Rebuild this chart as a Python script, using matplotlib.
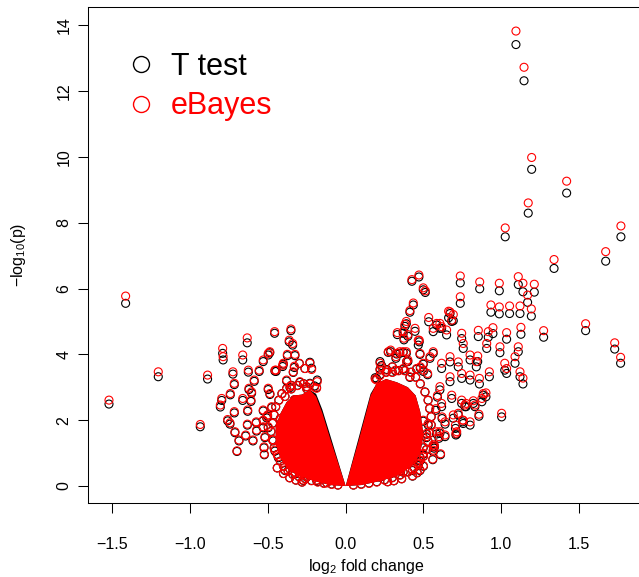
import matplotlib
matplotlib.use('Agg')
import matplotlib.pyplot as plt
from matplotlib.lines import Line2D

plt.rcParams['font.family'] = ['Liberation Sans', 'DejaVu Sans']
plt.rcParams['mathtext.fontset'] = 'custom'
plt.rcParams['mathtext.rm'] = 'Liberation Sans'
plt.rcParams['mathtext.it'] = 'Liberation Sans'
plt.rcParams['mathtext.default'] = 'regular'

# ---- individual genes: log2 fold change, -log10 p (T test), -log10 p (eBayes)
fold = [
    1.095, 1.147, 1.196, 1.421, 1.174, 1.026, 1.770, 1.672, 1.340, 1.543, 1.730, 1.768, 1.273,
    0.737, 0.737, 0.862, 0.988, 1.110, 1.140, 1.213, 1.170, 0.934, 0.988, 1.054, 1.121, 1.194,
    1.127, 1.035, 0.947, 0.853, 0.917, 0.662, 0.692, 0.534, 0.471, 0.426, 0.499, 0.512, 0.435,
    0.413, 1.110, 1.089, 1.121, 1.140, 1.003, 1.023, 0.924, 0.849, 0.860, 0.902, 0.876, 0.857,
    0.800, 0.756, 0.714, 0.774, 0.821, 0.563, 0.606, 0.649, 0.746, 0.756, 0.800, 0.840, 0.907,
    0.992, 1.035, 0.671, 0.617, 0.724, 0.746, 0.800, 0.671, 0.606, 0.682, 0.617, 0.746, 0.692,
    0.639, 0.706, 0.585, 0.563, 0.467, 0.446, 0.390, 0.400, 0.381, 0.332, 0.370, 0.375, 0.473,
    0.289, 0.323, 0.348, 0.390, 0.400, 0.542, 0.563, 0.221, 0.231, 0.221, 0.300, 0.320, 0.370,
    0.480, 0.500, 0.527, 0.709, 0.752, 0.767, 0.831, 0.885, 0.724, 0.606, 0.639, 0.563, 0.568,
    0.531, 0.478, 0.424, 0.585, 0.617, 0.671, 0.682,
    0.274, 0.328, 0.370, 0.392, 0.478, 0.499, 0.456, 0.413, 0.264, 0.199,
    0.499, 0.521, 0.499, 0.478, 0.221, 0.285, 0.370, 0.478, 0.413, 0.499, 0.520, 0.430, 0.467,
    0.354,
    -1.415, -1.205, -1.522, -0.888, -0.935, -0.791, -0.788, -0.633, -0.457, -0.662, -0.725,
    -0.716, -0.626, -0.556, -0.530, -0.498, -0.488, -0.448, -0.588, -0.622, -0.605, -0.742,
    -0.797, -0.806, -0.662, -0.609, -0.716, -0.630, -0.759, -0.744, -0.712, -0.686, -0.699,
    -0.632, -0.643, -0.596, -0.575, -0.573, -0.525, -0.523, -0.530, -0.519, -0.498, -0.502,
    -0.390, -0.352, -0.363, -0.341, -0.375, -0.326, -0.405, -0.330, -0.298, -0.262, -0.230,
    -0.219, -0.183, -0.347, -0.326, -0.294, -0.251, -0.187, -0.122,
    -0.487, -0.476, -0.508, -0.498, -0.466, -0.455, -0.433, -0.273, -0.401, -0.337, -0.294,
    -0.455, -0.380, -0.358, -0.251, -0.187, -0.530, -0.530,
]
p_ttest = [
    13.41, 12.31, 9.62, 8.90, 8.29, 7.57, 7.57, 6.83, 6.61, 4.72, 4.16, 3.73, 4.52,
    6.17, 5.55, 5.99, 5.93, 6.12, 5.90, 5.89, 5.58, 5.28, 5.23, 5.24, 5.24, 5.16,
    4.61, 4.46, 4.63, 4.54, 4.52, 5.11, 5.02, 4.99, 6.35, 6.22, 5.96, 5.88, 5.50,
    5.28, 4.08, 3.73, 3.32, 3.10, 2.10, 3.52, 3.32, 3.78, 3.10, 2.71, 2.56, 2.12,
    1.85, 1.90, 1.58, 2.41, 2.51, 4.69, 4.79, 4.59, 4.48, 4.18, 3.83, 3.62, 4.18,
    4.05, 3.42, 3.77, 3.57, 3.62, 3.27, 3.22, 3.17, 2.92, 2.66, 2.41, 2.51, 2.06,
    1.88, 1.75, 1.58, 1.20, 4.28, 4.70, 4.93, 4.55, 4.85, 4.60, 4.64, 4.44, 4.38,
    4.08, 3.88, 4.03, 4.03, 3.78, 3.88, 4.03, 3.78, 3.66, 3.55, 3.62, 3.50, 3.55,
    3.58, 3.48, 3.38, 1.55, 1.95, 2.41, 2.41, 2.76, 2.16, 1.60, 1.50, 1.05, 1.15,
    1.85, 0.86, 0.76, 4.89, 4.79, 5.24, 5.00,
    4.06, 4.01, 4.06, 3.78, 4.00, 3.70, 3.55, 3.30, 3.54, 3.26,
    1.97, 1.57, 1.16, 0.76, 0.27, 0.37, 0.42, 0.47, 0.76, 0.97, 1.47, 0.47, 0.62,
    0.47,
    5.55, 3.32, 2.49, 3.25, 1.80, 4.03, 3.83, 4.35, 4.64, 3.83, 3.40,
    3.08, 3.46, 3.48, 3.78, 3.98, 4.05, 3.48, 3.18, 2.93, 2.82, 2.77,
    2.60, 2.40, 2.60, 2.57, 2.22, 2.27, 1.98, 1.88, 1.62, 1.37, 1.05,
    1.85, 1.52, 1.37, 1.92, 1.67, 1.16, 0.95, 1.77, 1.47, 2.93, 2.12,
    0.47, 4.72, 4.38, 4.28, 3.96, 3.96, 3.63, 3.60, 3.72, 3.57, 3.76,
    3.58, 3.22, 0.62, 0.37, 0.37, 0.27, 0.17, 0.10,
    2.78, 2.38, 2.07, 1.77, 1.37, 1.06, 0.86, 0.17, 3.70, 3.45, 3.15,
    3.49, 3.19, 2.99, 3.01, 2.99, 2.28, 1.98,
]
p_ebayes = [
    13.82, 12.72, 9.98, 9.26, 8.60, 7.84, 7.90, 7.12, 6.88, 4.93, 4.35, 3.91, 4.72,
    6.38, 5.75, 6.20, 6.16, 6.36, 6.16, 6.13, 5.80, 5.50, 5.44, 5.47, 5.47, 5.38,
    4.82, 4.66, 4.81, 4.73, 4.69, 5.31, 5.21, 5.12, 6.41, 6.27, 6.02, 5.93, 5.56,
    5.33, 4.23, 3.93, 3.47, 3.28, 2.21, 3.73, 3.47, 3.95, 3.27, 2.83, 2.66, 2.18,
    1.95, 2.00, 1.65, 2.51, 2.59, 4.79, 4.94, 4.74, 4.64, 4.33, 3.98, 3.78, 4.33,
    4.23, 3.57, 3.93, 3.73, 3.77, 3.42, 3.37, 3.32, 3.02, 2.76, 2.51, 2.61, 2.16,
    1.95, 1.85, 1.65, 1.25, 4.43, 4.79, 5.00, 4.60, 4.91, 4.66, 4.69, 4.49, 4.43,
    4.13, 3.93, 4.08, 4.08, 3.83, 3.93, 4.08, 3.73, 3.62, 3.52, 3.62, 3.52, 3.57,
    3.62, 3.52, 3.42, 1.60, 2.00, 2.46, 2.46, 2.81, 2.21, 1.65, 1.55, 1.09, 1.19,
    1.90, 0.89, 0.79, 4.94, 4.84, 5.29, 5.04,
    4.08, 4.03, 4.08, 3.78, 4.03, 3.73, 3.57, 3.32, 3.52, 3.22,
    2.00, 1.60, 1.19, 0.79, 0.28, 0.39, 0.43, 0.49, 0.79, 0.99, 1.50, 0.49, 0.65,
    0.49,
    5.77, 3.47, 2.61, 3.37, 1.87, 4.18, 3.93, 4.50, 4.69, 3.98, 3.47,
    3.12, 3.52, 3.52, 3.83, 4.03, 4.08, 3.52, 3.22, 2.97, 2.86, 2.81,
    2.66, 2.46, 2.66, 2.61, 2.26, 2.31, 2.02, 1.92, 1.65, 1.40, 1.07,
    1.88, 1.55, 1.40, 1.95, 1.70, 1.19, 0.97, 1.80, 1.50, 2.97, 2.16,
    0.49, 4.77, 4.43, 4.33, 4.00, 4.00, 3.67, 3.64, 3.73, 3.57, 3.73,
    3.54, 3.17, 0.64, 0.39, 0.39, 0.28, 0.18, 0.10,
    2.81, 2.41, 2.10, 1.80, 1.40, 1.09, 0.89, 0.18, 3.73, 3.47, 3.17,
    3.52, 3.22, 3.02, 3.02, 2.97, 2.31, 2.00,
]

# ---- genes on the fringe of the overplotted core (fold change, -log10 p; both tests nearly equal)
fringe_fold = [
    -0.05, -0.09, -0.14, -0.18, -0.22, -0.26, -0.30, -0.34, -0.37, -0.40, -0.42, -0.44, -0.46,
    -0.47, -0.48, -0.47, -0.46, -0.45, -0.43, -0.41, -0.38, -0.35, -0.31, -0.27, -0.23, -0.20,
    -0.44, -0.40, -0.36, -0.32, -0.28, -0.39, -0.35, -0.42, -0.33, -0.25,
    0.05, 0.10, 0.15, 0.20, 0.25, 0.30, 0.35, 0.40, 0.44, 0.47, 0.50, 0.52, 0.53, 0.54,
    0.55, 0.55, 0.54, 0.53, 0.51, 0.48, 0.45, 0.42, 0.38, 0.34, 0.30, 0.26, 0.22, 0.19,
    0.57, 0.60, 0.58, 0.62, 0.59, 0.56, 0.61, 0.50, 0.46, 0.43, 0.36, 0.31, 0.27,
]
fringe_ttest = [
    0.03, 0.06, 0.09, 0.13, 0.17, 0.23, 0.29, 0.36, 0.46, 0.61, 0.76, 0.96, 1.16,
    1.41, 1.66, 1.91, 2.16, 2.41, 2.61, 2.81, 2.96, 3.06, 3.06, 3.11, 3.12, 3.04,
    0.55, 0.38, 0.25, 0.18, 0.12, 2.72, 2.95, 2.05, 2.62, 2.95,
    0.03, 0.06, 0.09, 0.13, 0.19, 0.26, 0.34, 0.43, 0.56, 0.71, 0.91, 1.11, 1.36, 1.61,
    1.86, 2.11, 2.36, 2.61, 2.86, 3.11, 3.31, 3.46, 3.51, 3.51, 3.46, 3.46, 3.38, 3.29,
    1.20, 1.45, 2.30, 2.05, 2.70, 0.80, 0.95, 0.60, 0.40, 0.30, 0.22, 0.16, 0.13,
]
fringe_ebayes = [
    0.03, 0.05, 0.08, 0.12, 0.16, 0.22, 0.28, 0.35, 0.45, 0.60, 0.75, 0.95, 1.15,
    1.40, 1.65, 1.90, 2.15, 2.40, 2.60, 2.80, 2.95, 3.05, 3.05, 3.10, 3.10, 3.00,
    0.55, 0.38, 0.25, 0.18, 0.12, 2.72, 2.95, 2.05, 2.62, 2.95,
    0.03, 0.05, 0.08, 0.12, 0.18, 0.25, 0.33, 0.42, 0.55, 0.70, 0.90, 1.10, 1.35, 1.60,
    1.85, 2.10, 2.35, 2.60, 2.85, 3.10, 3.30, 3.45, 3.50, 3.50, 3.45, 3.45, 3.35, 3.25,
    1.25, 1.50, 2.35, 2.10, 2.75, 0.82, 0.98, 0.62, 0.41, 0.31, 0.22, 0.16, 0.13,
]

# ---- outline of the saturated (overplotted) core of the cloud
core_left_x = [0.0, -0.10, -0.15, -0.19, -0.23, -0.28, -0.33, -0.38, -0.42, -0.45, -0.45,
               -0.42, -0.37, -0.30, -0.20, -0.10]
core_left_t = [0.0, 1.55, 2.32, 2.80, 2.92, 2.78, 2.75, 2.55, 2.20, 1.80, 1.30,
               0.85, 0.50, 0.30, 0.15, 0.03]
core_left_e = [0.0, 1.45, 2.22, 2.72, 2.92, 2.78, 2.75, 2.55, 2.20, 1.80, 1.30,
               0.85, 0.50, 0.30, 0.15, 0.03]
core_right_x = [0.0, 0.08, 0.13, 0.16, 0.20, 0.26, 0.33, 0.40, 0.45, 0.48, 0.50,
                0.48, 0.42, 0.34, 0.22, 0.10]
core_right_t = [0.0, 1.40, 2.28, 2.80, 3.12, 3.25, 3.15, 3.00, 2.75, 2.25, 1.55,
                1.00, 0.60, 0.33, 0.15, 0.03]
core_right_e = [0.0, 1.32, 2.20, 2.75, 3.12, 3.25, 3.15, 3.00, 2.75, 2.25, 1.55,
                1.00, 0.60, 0.33, 0.15, 0.03]

x_ticks = [-1.5, -1.0, -0.5, 0.0, 0.5, 1.0, 1.5]
y_ticks = [0, 2, 4, 6, 8, 10, 12, 14]
legend_labels = ['T test', 'eBayes']

W, H = 639, 577
fig = plt.figure(figsize=(W / 100, H / 100), dpi=100)
left_px, right_px, top_px, bottom_px = 88.3, 643.0, 6.7, 502.5
ax = fig.add_axes([left_px / W, (H - bottom_px) / H,
                   (right_px - left_px) / W, (bottom_px - top_px) / H])
ax.set_xlim(-1.655, 1.912)
ax.set_ylim(-0.50, 14.56)

ms = 33
lw = 0.8
# T test first (black), then eBayes (red) on top, as in the original
ax.fill(core_left_x, core_left_t, color='black', lw=0, zorder=1)
ax.fill(core_right_x, core_right_t, color='black', lw=0, zorder=1)
ax.scatter(fringe_fold, fringe_ttest, s=ms, facecolors='none', edgecolors='black', linewidths=lw, zorder=2)
ax.scatter(fold, p_ttest, s=ms, facecolors='none', edgecolors='black', linewidths=lw, zorder=2)
ax.fill(core_left_x, core_left_e, color='red', lw=0, zorder=3)
ax.fill(core_right_x, core_right_e, color='red', lw=0, zorder=3)
ax.scatter(fringe_fold, fringe_ebayes, s=ms, facecolors='none', edgecolors='red', linewidths=lw, zorder=4)
ax.scatter(fold, p_ebayes, s=ms, facecolors='none', edgecolors='red', linewidths=lw, zorder=4)

ax.set_xticks(x_ticks)
ax.set_yticks(y_ticks)
ax.set_yticklabels([str(v) for v in y_ticks], rotation=90, va='center')
ax.tick_params(axis='both', direction='out', length=7, width=0.75, labelsize=11.5, colors='black')
ax.tick_params(axis='x', pad=18)
ax.tick_params(axis='y', pad=5)
for s in ax.spines.values():
    s.set_linewidth(0.75)
    s.set_color('black')

ax.set_xlabel(r'$log_2$ fold change', fontsize=11.5)
ax.set_ylabel(r'$-log_{10}(p)$', fontsize=11.5)
ax.xaxis.label.set_va('center')
ax.yaxis.label.set_va('center')
ax.yaxis.label.set_ha('center')
ax.xaxis.set_label_coords((366 - left_px) / (right_px - left_px), -(567 - bottom_px) / (bottom_px - top_px))
ax.yaxis.set_label_coords(-(left_px - 18) / (right_px - left_px), 0.5)

handles = [Line2D([], [], ls='none', marker='o', markersize=11.5, mfc='none', mec=c, mew=1.0)
           for c in ['black', 'red']]
leg = ax.legend(handles, legend_labels, loc='upper left', frameon=False, fontsize=22,
                bbox_to_anchor=(126 / W, (H - 52) / H), bbox_transform=fig.transFigure,
                borderpad=0, borderaxespad=0, handlelength=1.0, handletextpad=0.47,
                labelspacing=0.31)
for t, c in zip(leg.get_texts(), ['black', 'red']):
    t.set_color(c)

fig.savefig('out.png', dpi=100)
